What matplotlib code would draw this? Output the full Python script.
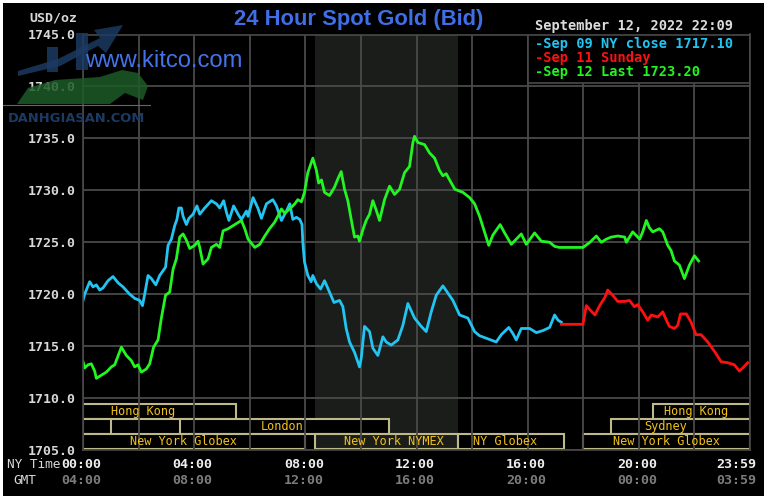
import matplotlib
matplotlib.use('Agg')
import matplotlib.pyplot as plt
import matplotlib.transforms as mtransforms
from matplotlib.patches import Rectangle, Polygon
import numpy as np

# ---------------- data ----------------
sep09_hours = [0.00, 0.06, 0.24, 0.36, 0.48, 0.60, 0.72, 0.90, 1.08, 1.26, 1.44, 1.68, 1.86, 2.04, 2.14,
               2.22, 2.34, 2.46, 2.62, 2.76, 2.97, 3.06, 3.18, 3.30, 3.38, 3.45, 3.54, 3.60, 3.72, 3.81,
               3.96, 4.10, 4.20, 4.38, 4.62, 4.80, 4.92, 5.06, 5.16, 5.25, 5.42, 5.58, 5.70, 5.88, 5.94,
               6.12, 6.29, 6.42, 6.60, 6.83, 6.96, 7.14, 7.32, 7.44, 7.55, 7.68, 7.80, 7.88, 7.91, 7.97,
               8.09, 8.21, 8.27, 8.40, 8.55, 8.69, 8.87, 9.03, 9.23, 9.35, 9.47, 9.59, 9.77, 9.95, 10.01,
               10.13, 10.31, 10.43, 10.61, 10.79, 10.91, 11.09, 11.33, 11.51, 11.69, 11.81, 11.93, 12.17,
               12.35, 12.53, 12.71, 12.95, 13.13, 13.31, 13.55, 13.85, 14.09, 14.27, 14.57, 14.87, 15.05,
               15.32, 15.47, 15.59, 15.77, 16.07, 16.31, 16.55, 16.79, 16.97, 17.09, 17.21]
sep09_price = [1719.4, 1720.0, 1721.2, 1720.7, 1720.9, 1720.4, 1720.6, 1721.3, 1721.7, 1721.1, 1720.7,
               1720.0, 1719.6, 1719.4, 1718.9, 1720.0, 1721.8, 1721.5, 1720.9, 1721.8, 1722.6, 1724.7,
               1725.3, 1726.6, 1727.2, 1728.3, 1728.3, 1727.5, 1726.7, 1727.3, 1727.7, 1728.5, 1727.7,
               1728.3, 1729.0, 1728.7, 1728.3, 1729.0, 1727.9, 1727.1, 1728.5, 1727.7, 1727.2, 1728.0,
               1727.5, 1729.3, 1728.3, 1727.3, 1728.7, 1729.1, 1728.5, 1727.1, 1728.0, 1728.7, 1727.2,
               1727.4, 1727.2, 1726.7, 1725.0, 1723.1, 1721.8, 1721.2, 1721.8, 1721.0, 1720.5, 1721.3,
               1720.2, 1719.2, 1719.4, 1718.8, 1716.7, 1715.4, 1714.4, 1713.0, 1713.8, 1716.9, 1716.4,
               1714.8, 1714.1, 1715.9, 1715.4, 1715.1, 1715.6, 1717.0, 1719.1, 1718.4, 1717.7, 1716.9,
               1716.4, 1718.3, 1719.9, 1720.8, 1720.1, 1719.4, 1718.0, 1717.7, 1716.4, 1716.0, 1715.7,
               1715.4, 1716.1, 1716.8, 1716.2, 1715.6, 1716.7, 1716.7, 1716.3, 1716.5, 1716.8, 1718.0,
               1717.5, 1717.3]

sep11_hours = [17.21, 17.99, 18.11, 18.24, 18.42, 18.59, 18.78, 18.88, 19.06, 19.24, 19.49, 19.66, 19.84,
               19.96, 20.14, 20.32, 20.45, 20.68, 20.86, 20.99, 21.10, 21.28, 21.40, 21.50, 21.71, 21.88,
               22.06, 22.24, 22.48, 22.72, 22.96, 23.20, 23.44, 23.62, 23.74, 23.92]
sep11_price = [1717.1, 1717.1, 1718.9, 1718.5, 1718.0, 1718.9, 1719.7, 1720.4, 1719.9, 1719.3, 1719.3,
               1719.4, 1718.8, 1719.0, 1718.3, 1717.5, 1718.0, 1717.8, 1718.3, 1717.5, 1716.9, 1716.7,
               1717.0, 1718.1, 1718.1, 1717.3, 1716.1, 1716.1, 1715.4, 1714.5, 1713.5, 1713.4, 1713.2,
               1712.6, 1712.9, 1713.4]

sep12_hours = [0.00, 0.06, 0.18, 0.30, 0.42, 0.48, 0.66, 0.84, 1.02, 1.14, 1.38, 1.56, 1.74, 1.86, 1.98,
               2.10, 2.28, 2.40, 2.54, 2.70, 2.82, 2.97, 3.12, 3.24, 3.36, 3.48, 3.60, 3.72, 3.84, 4.02,
               4.14, 4.20, 4.32, 4.50, 4.62, 4.80, 4.92, 5.04, 5.22, 5.40, 5.52, 5.70, 5.82, 5.94, 6.18,
               6.36, 6.54, 6.71, 6.89, 7.01, 7.14, 7.26, 7.44, 7.62, 7.73, 7.86, 7.97, 8.09, 8.27, 8.40,
               8.48, 8.58, 8.69, 8.87, 9.05, 9.17, 9.29, 9.41, 9.53, 9.65, 9.77, 9.89, 9.95, 10.07, 10.19,
               10.31, 10.43, 10.55, 10.67, 10.85, 11.03, 11.21, 11.39, 11.57, 11.75, 11.87, 11.93, 12.05,
               12.29, 12.47, 12.65, 12.83, 12.95, 13.07, 13.19, 13.38, 13.67, 13.91, 14.09, 14.27, 14.41,
               14.60, 14.75, 15.01, 15.17, 15.41, 15.59, 15.77, 15.95, 16.25, 16.49, 16.79, 16.97, 17.15,
               17.87, 17.99, 18.24, 18.47, 18.65, 18.83, 19.01, 19.24, 19.49, 19.55, 19.78, 20.03, 20.14,
               20.27, 20.38, 20.50, 20.74, 20.86, 21.04, 21.16, 21.28, 21.46, 21.64, 21.82, 22.00, 22.15]
sep12_price = [1713.5, 1712.9, 1713.2, 1713.3, 1712.6, 1711.9, 1712.2, 1712.5, 1713.0, 1713.2, 1714.9,
               1714.1, 1713.6, 1713.0, 1713.2, 1712.5, 1712.8, 1713.3, 1714.9, 1715.6, 1717.7, 1719.9,
               1720.2, 1722.4, 1723.4, 1725.5, 1725.8, 1725.2, 1724.4, 1724.7, 1725.1, 1724.5, 1722.9,
               1723.4, 1724.5, 1724.8, 1724.5, 1726.1, 1726.3, 1726.6, 1726.8, 1727.1, 1726.3, 1725.3,
               1724.5, 1724.8, 1725.6, 1726.3, 1726.9, 1727.5, 1728.2, 1727.8, 1728.2, 1728.7, 1729.1,
               1728.9, 1729.8, 1731.7, 1733.1, 1731.9, 1730.7, 1731.0, 1729.8, 1729.5, 1730.3, 1731.1,
               1731.8, 1730.1, 1729.0, 1727.2, 1725.5, 1725.6, 1725.1, 1726.2, 1727.1, 1727.7, 1729.0,
               1728.1, 1727.1, 1729.1, 1730.4, 1729.6, 1730.1, 1731.7, 1732.3, 1734.6, 1735.2, 1734.6,
               1734.4, 1733.6, 1733.1, 1731.9, 1731.4, 1731.6, 1731.0, 1730.1, 1729.8, 1729.3, 1728.7,
               1727.5, 1726.3, 1724.7, 1725.7, 1726.7, 1725.9, 1724.8, 1725.3, 1725.8, 1724.8, 1725.9,
               1725.1, 1725.0, 1724.6, 1724.5, 1724.5, 1724.5, 1725.0, 1725.6, 1725.0, 1725.3, 1725.5,
               1725.6, 1725.5, 1725.0, 1726.0, 1725.3, 1726.0, 1727.1, 1726.4, 1726.0, 1726.3, 1726.0,
               1724.7, 1724.2, 1723.2, 1722.8, 1721.5, 1722.8, 1723.7, 1723.2]

y_ticks = [1705.0, 1710.0, 1715.0, 1720.0, 1725.0, 1730.0, 1735.0, 1740.0, 1745.0]
label_hours = [0, 4, 8, 12, 16, 20, 24]
ny_labels = ['00:00', '04:00', '08:00', '12:00', '16:00', '20:00', '23:59']
gmt_labels = ['04:00', '08:00', '12:00', '16:00', '20:00', '00:00', '03:59']

legend_labels = ['Sep 09 NY close 1717.10', 'Sep 11 Sunday', 'Sep 12 Last 1723.20']
series_colors = ['#22c4f2', '#ff1010', '#22f522']

nymex_span = (8.33, 13.5)

# trading sessions: row (0 top), start hour, end hour, label, label hour
session_rows = [0, 0, 1, 1, 1, 2, 2, 2, 2]
session_start = [0.0, 20.5, 0.0, 3.5, 19.0, 0.0, 8.33, 13.5, 18.0]
session_end = [5.5, 24.0, 1.0, 11.0, 24.0, 8.0, 13.5, 17.3, 24.0]
session_names = ['Hong Kong', 'Hong Kong', '', 'London', 'Sydney',
                 'New York Globex', 'New York NYMEX', 'NY Globex', 'New York Globex']
session_label_hours = [2.15, 22.05, 0.5, 7.15, 20.98, 3.6, 11.2, 15.2, 20.98]

# ---------------- figure ----------------
W, H = 767, 501
fig = plt.figure(figsize=(W / 100, H / 100), dpi=100, facecolor='white')


def fx(x):
    return x / W


def fy(y):
    return 1 - y / H


fig.add_artist(Rectangle((fx(3), fy(496)), fx(764) - fx(3), fy(3) - fy(496),
                         transform=fig.transFigure, facecolor='black', edgecolor='none', zorder=-10))

ax = fig.add_axes([fx(83), fy(450), fx(750) - fx(83), fy(34.5) - fy(450)])
ax.set_facecolor('black')
ax.set_xlim(0, 24)
ax.set_ylim(1705, 1745)
ax.set_xticks(np.arange(0, 25, 2))
ax.set_yticks(y_ticks)
ax.set_axisbelow(True)
ax.grid(True, color='#4a4a4a', linewidth=1.3)
ax.tick_params(length=0, labelbottom=False)
ax.set_yticklabels([f'{v:.1f}' for v in y_ticks], fontfamily='DejaVu Sans Mono',
                   fontweight='bold', fontsize=9.5, color='#d8d8d8')
ax.tick_params(axis='y', pad=5)
for s in ax.spines.values():
    s.set_color('#4a4a4a')
    s.set_linewidth(1.2)

# NYMEX shading
ax.axvspan(nymex_span[0], nymex_span[1], color='#1a1d1a', zorder=0.3, lw=0)

# session boxes
row_edges = [(1708.0, 1709.45), (1706.55, 1708.0), (1705.1, 1706.5)]
for r, s0, s1, name, lh in zip(session_rows, session_start, session_end, session_names, session_label_hours):
    lo, hi = row_edges[r]
    inside = nymex_span[0] - 0.01 <= s0 and s1 <= nymex_span[1] + 0.01
    ax.add_patch(Rectangle((s0, lo), s1 - s0, hi - lo, facecolor='#1a1d1a' if inside else 'black',
                           edgecolor='#bdb98a', linewidth=1.5, zorder=0.4))
    if name:
        ax.text(lh, (lo + hi) / 2, name, ha='center', va='center', fontsize=8.6,
                fontfamily='DejaVu Sans Mono', color='#f2c21b', zorder=3)

# price lines
ax.plot(sep09_hours, sep09_price, color=series_colors[0], lw=2.0, zorder=2)
ax.plot(sep11_hours, sep11_price, color=series_colors[1], lw=2.0, zorder=2)
ax.plot(sep12_hours, sep12_price, color=series_colors[2], lw=2.0, zorder=2)

# legend box
ax.add_patch(Rectangle((16.0, 1740.3), 8.0, 4.7, facecolor='black', edgecolor='#4a4a4a',
                       linewidth=1.2, zorder=2.5))
for i, (lab, c) in enumerate(zip(legend_labels, series_colors)):
    fig.text(fx(535), fy(44 + i * 14), '-' + lab, ha='left', va='center', fontsize=9.8,
             fontfamily='DejaVu Sans Mono', fontweight='bold', color=c, zorder=5)

# x labels
trans_x = mtransforms.blended_transform_factory(ax.transData, fig.transFigure)
for h, ny, gm in zip(label_hours, ny_labels, gmt_labels):
    if h == 24:
        t = mtransforms.offset_copy(trans_x, fig=fig, x=6, y=0, units='dots')
        ha = 'right'
    else:
        t = mtransforms.offset_copy(trans_x, fig=fig, x=-1.5, y=0, units='dots')
        ha = 'center'
    fig.text(h, fy(465), ny, transform=t, ha=ha, va='center', fontsize=9.6,
             fontfamily='DejaVu Sans Mono', fontweight='bold', color='#eeeeee')
    fig.text(h, fy(481), gm, transform=t, ha=ha, va='center', fontsize=9.6,
             fontfamily='DejaVu Sans Mono', fontweight='bold', color='#7c7c7c')

fig.text(fx(7), fy(465), 'NY Time', ha='left', va='center', fontsize=9.2,
         fontfamily='DejaVu Sans Mono', color='#d8d8d8')
fig.text(fx(25), fy(480), 'GMT', ha='center', va='center', fontsize=9.2,
         fontfamily='DejaVu Sans Mono', color='#d8d8d8')
fig.text(fx(77), fy(18), 'USD/oz', ha='right', va='center', fontsize=9.5,
         fontfamily='DejaVu Sans Mono', fontweight='bold', color='#d8d8d8')

# title and date
fig.text(fx(358.5), fy(20), '24 Hour Spot Gold (Bid)', ha='center', va='center', fontsize=15.8,
         fontfamily='Liberation Sans', fontweight='bold', color='#3f6ee6')
fig.text(fx(535), fy(26), 'September 12, 2022 22:09', ha='left', va='center', fontsize=9.8,
         fontfamily='DejaVu Sans Mono', fontweight='bold', color='#dcdcdc')

# watermark (decorative)
navy = '#1c3a63'
green = '#1d5a28'
wm = [
    ([(18, 76), (60, 66), (98, 46), (106, 53), (123, 25), (94, 30), (100, 38), (58, 59), (18, 71)], navy),
    ([(47, 47), (58, 47), (58, 72), (47, 72)], navy),
    ([(76, 33), (88, 33), (88, 70), (76, 70)], navy),
    ([(17, 104), (28, 88), (55, 80), (100, 77), (122, 70), (138, 73), (148, 86), (143, 100),
      (125, 93), (110, 104)], green),
]
for pts, col in wm:
    fig.add_artist(Polygon([(fx(x), fy(y)) for x, y in pts], closed=True, transform=fig.transFigure,
                           facecolor=col, edgecolor='none', alpha=0.85, zorder=1))
fig.add_artist(plt.Line2D([fx(3), fx(150)], [fy(105), fy(105)], transform=fig.transFigure,
                          color='#666666', lw=0.8, zorder=1))
fig.text(fx(8), fy(118), 'DANHGIASAN.COM', ha='left', va='center', fontsize=9.4,
         fontweight='bold', fontfamily='DejaVu Sans', color='#1c3a63', zorder=1.5)
fig.text(fx(85), fy(61), 'www.kitco.com', ha='left', va='center', fontsize=17.2,
         fontfamily='Liberation Sans', color='#4472e8', zorder=6)

fig.savefig('out.png', dpi=100, facecolor=fig.get_facecolor())
